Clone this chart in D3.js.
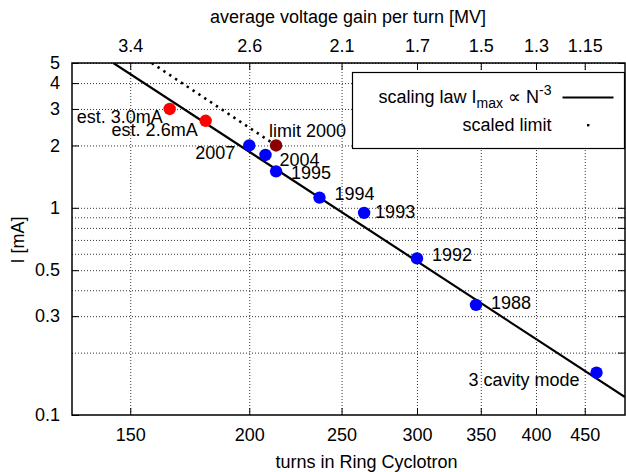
<!DOCTYPE html>
<html>
<head>
<meta charset="utf-8">
<script src="https://cdn.jsdelivr.net/npm/d3@7"></script>
<style>
  body { margin: 0; background: #fff; }
  svg text { font-family: "Liberation Sans", Arial, sans-serif; font-size: 18px; fill: #000; }
  .grid line { stroke: #000; stroke-width: 0.8; stroke-dasharray: 1, 2; }
  .grid path { display: none; }
  .axis path { display: none; }
  .axis line { stroke: #000; stroke-width: 1; }
</style>
</head>
<body>
<div id="chart"></div>
<script>
// measured points (turns in Ring Cyclotron, current in mA)
const labels = ["est. 3.0mA", "est. 2.6mA", "2007", "2004", "1995", "1994", "1993", "1992", "1988", "3 cavity mode"];
const turns = [165, 180, 200, 208, 213.4, 237, 264, 300, 346, 463];
const currents = [3.0, 2.63, 2.0, 1.8, 1.5, 1.12, 0.945, 0.57, 0.34, 0.16];
const kinds = ["est", "est", "meas", "meas", "meas", "meas", "meas", "meas", "meas", "meas"];

// the 2000 limit point
const limitTurns = [213.4];
const limitCurrent = [2.0];

// scaling law I ~ N^-3 (endpoints)
const lawTurns = [144, 496];
const lawCurrent = [5, 0.122];

// scaled limit (dotted)
const scaledTurns = [158, 213.4];
const scaledCurrent = [5, 2.0];

// axes
const xTicks = [150, 200, 250, 300, 350, 400, 450];
const voltTicks = ["3.4", "2.6", "2.1", "1.7", "1.5", "1.3", "1.15"];
const yLabelTicks = [0.1, 0.3, 0.5, 1, 2, 3, 4, 5];
const yGridTicks = [0.2, 0.3, 0.4, 0.5, 0.6, 0.7, 0.8, 0.9, 1, 2, 3, 4, 5];

const W = 626, H = 472;
const margin = { top: 63, right: 1, bottom: 57, left: 72 };
const width = W - margin.left - margin.right;
const height = H - margin.top - margin.bottom;

const colors = { est: "#ff0000", meas: "#0000ff" };
const labelOffsets = {
    "est. 3.0mA": [-7, 14, "end"],
    "est. 2.6mA": [-8, 15, "end"],
    "2007": [-14, 14, "end"],
    "2004": [14, 11, "start"],
    "1995": [15, 8, "start"],
    "1994": [15, 2, "start"],
    "1993": [11, 5, "start"],
    "1992": [15, 3, "start"],
    "1988": [15, 4, "start"],
    "3 cavity mode": [-17, 13, "end"]
};

const svg = d3.select("#chart").append("svg")
    .attr("width", W)
    .attr("height", H);

const g = svg.append("g")
    .attr("transform", "translate(" + margin.left + "," + margin.top + ")");

const x = d3.scaleLog().domain([130.3, 496]).range([0, width]);
const y = d3.scaleLog().domain([0.1, 5]).range([height, 0]);

// grid
g.append("g").attr("class", "grid")
    .attr("transform", "translate(0," + height + ")")
    .call(d3.axisBottom(x).tickValues(xTicks).tickSize(-height).tickFormat(""));
g.append("g").attr("class", "grid")
    .call(d3.axisLeft(y).tickValues(yGridTicks).tickSize(-width).tickFormat(""));

// axes
g.append("g").attr("class", "axis")
    .attr("transform", "translate(0," + height + ")")
    .call(d3.axisBottom(x).tickValues(xTicks).tickSizeInner(-7).tickSizeOuter(0).tickPadding(13).tickFormat(d3.format("d")));

g.append("g").attr("class", "axis")
    .call(d3.axisTop(x).tickValues(xTicks).tickSizeInner(-7).tickSizeOuter(0).tickPadding(11)
        .tickFormat((d, i) => voltTicks[i]))
    .selectAll("text").attr("dy", "0");

g.append("g").attr("class", "axis")
    .call(d3.axisLeft(y).tickValues(yLabelTicks).tickSizeInner(-7).tickSizeOuter(0).tickPadding(12)
        .tickFormat(d => String(d)));

g.append("g").attr("class", "axis")
    .attr("transform", "translate(" + width + ",0)")
    .call(d3.axisRight(y).tickValues(yGridTicks).tickSizeInner(-7).tickSizeOuter(0).tickFormat(""));

// frame
g.append("rect")
    .attr("width", width).attr("height", height)
    .attr("fill", "none").attr("stroke", "#000").attr("stroke-width", 1.5);

// axis titles
svg.append("text")
    .attr("x", 348).attr("y", 23)
    .attr("text-anchor", "middle")
    .text("average voltage gain per turn [MV]");

svg.append("text")
    .attr("x", 366.5).attr("y", 468)
    .attr("text-anchor", "middle")
    .text("turns in Ring Cyclotron");

svg.append("text")
    .attr("transform", "translate(24,240) rotate(-90)")
    .attr("text-anchor", "middle")
    .text("I [mA]");

// clip
svg.append("clipPath").attr("id", "clip")
    .append("rect").attr("width", width).attr("height", height);

const plot = g.append("g").attr("clip-path", "url(#clip)");

const line = d3.line().x(d => x(d[0])).y(d => y(d[1]));

plot.append("path")
    .datum(lawTurns.map((t, i) => [t, lawCurrent[i]]))
    .attr("d", line)
    .attr("fill", "none")
    .attr("stroke", "#000")
    .attr("stroke-width", 2.2);

plot.append("path")
    .datum(scaledTurns.map((t, i) => [t, scaledCurrent[i]]))
    .attr("d", line)
    .attr("fill", "none")
    .attr("stroke", "#000")
    .attr("stroke-width", 2.6)
    .attr("stroke-dasharray", "2.4,4.6");

// points
const pts = turns.map((t, i) => ({ t: t, c: currents[i], label: labels[i], kind: kinds[i] }));

g.selectAll("circle.pt")
    .data(pts)
    .enter().append("circle")
    .attr("class", "pt")
    .attr("cx", d => x(d.t))
    .attr("cy", d => y(d.c))
    .attr("r", 6.2)
    .attr("fill", d => colors[d.kind]);

g.selectAll("circle.limit")
    .data(limitTurns)
    .enter().append("circle")
    .attr("class", "limit")
    .attr("cx", d => x(d))
    .attr("cy", (d, i) => y(limitCurrent[i]))
    .attr("r", 6.2)
    .attr("fill", "#8b0000");

g.selectAll("text.pt-label")
    .data(pts)
    .enter().append("text")
    .attr("class", "pt-label")
    .attr("x", d => x(d.t) + labelOffsets[d.label][0])
    .attr("y", d => y(d.c) + labelOffsets[d.label][1])
    .attr("text-anchor", d => labelOffsets[d.label][2])
    .text(d => d.label);

g.append("text")
    .attr("x", x(limitTurns[0]) - 7)
    .attr("y", y(limitCurrent[0]) - 8)
    .text("limit 2000");

// legend
const legend = svg.append("g");
legend.append("rect")
    .attr("x", 352.5).attr("y", 72.5)
    .attr("width", 272).attr("height", 76)
    .attr("fill", "#fff").attr("stroke", "#000").attr("stroke-width", 1.2);

const lt = legend.append("text")
    .attr("x", 551.5).attr("y", 103)
    .attr("text-anchor", "end");
lt.append("tspan").text("scaling law I");
lt.append("tspan").attr("dy", 5).style("font-size", "14px").text("max");
lt.append("tspan").attr("dy", -5).text(" \u221d N");
lt.append("tspan").attr("dy", -8).style("font-size", "14px").text("-3");

legend.append("line")
    .attr("x1", 562.5).attr("x2", 613.5)
    .attr("y1", 97.5).attr("y2", 97.5)
    .attr("stroke", "#000").attr("stroke-width", 2.2);

legend.append("text")
    .attr("x", 551.5).attr("y", 131)
    .attr("text-anchor", "end")
    .text("scaled limit");

legend.append("rect")
    .attr("x", 587).attr("y", 124)
    .attr("width", 2.4).attr("height", 2.4)
    .attr("fill", "#000");
</script>
</body>
</html>
